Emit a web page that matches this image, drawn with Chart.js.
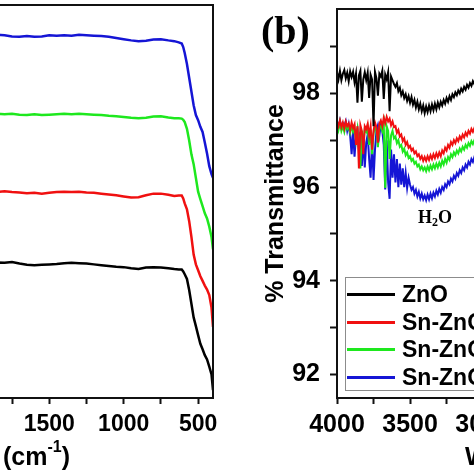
<!DOCTYPE html>
<html>
<head>
<meta charset="utf-8">
<script src="https://cdn.jsdelivr.net/npm/chart.js@4.4.1/dist/chart.umd.min.js"></script>
<style>
  html, body { margin: 0; padding: 0; background: #fff; overflow: hidden; width: 474px; height: 474px; position: relative; }
  canvas { position: absolute; top: 0; }
  #chartA { left: -363px; }
  #chartB { left: 250px; }
  .lbl { position: absolute; font-family: 'Liberation Serif', 'Times New Roman', serif; font-weight: bold; color: #000; white-space: nowrap; }
  #panelB { left: 261px; top: 11px; font-size: 40px; line-height: 40px; }
  #water { left: 418px; top: 208px; font-size: 18px; line-height: 18px; }
  #water sub { font-size: 12px; vertical-align: -3px; }
  #legendBox { position: absolute; left: 345px; top: 277px; width: 220px; height: 112px; border: 1px solid #8c8c8c; background: #fff; }
  .row { position: absolute; left: 1px; height: 28px; display: flex; align-items: center; }
  .sw { width: 48px; height: 3px; margin-right: 7px; }
  .row span { font: bold 23px 'Liberation Sans', Arial, sans-serif; color: #000; }
</style>
</head>
<body>
<canvas id="chartA" width="593" height="474"></canvas>
<canvas id="chartB" width="633" height="474"></canvas>
<div class="lbl" id="panelB">(b)</div>
<div class="lbl" id="water">H<sub>2</sub>O</div>
<div id="legendBox"></div>
<script>
// series names and colours
const seriesNames = ['ZnO', 'Sn-ZnO 1%', 'Sn-ZnO 3%', 'Sn-ZnO 5%'];
const seriesColors = ['#000000', '#f01010', '#1ee81e', '#1515d5'];

// ---- panel (a): stacked spectra, wavenumber cm-1
const leftWn = [4000, 3600, 3200, 2800, 2400, 2100,
  2000, 1950, 1900, 1850, 1800, 1750, 1700, 1650, 1600, 1550,
  1500, 1450, 1400, 1350, 1300, 1250, 1200, 1150, 1100, 1050,
  1000, 950, 900, 850, 800, 750, 700, 660, 630, 610,
  600, 590, 575, 560, 545, 530, 515, 500, 485, 470,
  455, 440, 425, 410, 400];
const leftZnO = [34.0, 34.3, 34.1, 34.4, 34.2, 34.3,
  34.3, 34.4, 34.2, 34.5, 34.4, 34.6, 34.2, 33.9, 33.8, 33.9,
  34.0, 34.1, 34.3, 34.4, 34.3, 34.2, 34.0, 33.8, 33.6, 33.4,
  33.3, 33.0, 32.8, 33.2, 33.3, 33.2, 33.0, 32.8, 32.7, 32.7,
  32.2, 31.5, 30.3, 27.5, 24.0, 20.5, 18.3, 16.0, 13.8, 12.4,
  10.9, 9.8, 8.0, 6.0, 2.0];
const leftSn1 = [52.2, 52.5, 52.3, 52.6, 52.4, 52.5,
  52.6, 52.4, 52.5, 52.4, 52.6, 52.4, 52.3, 52.1, 52.2, 52.0,
  52.2, 52.4, 52.5, 52.4, 52.5, 52.3, 52.2, 52.0, 51.8, 51.6,
  51.3, 51.0, 51.1, 51.6, 52.0, 52.0, 51.7, 51.4, 51.5, 51.5,
  50.8, 49.5, 48.0, 45.0, 41.0, 36.5, 34.0, 32.5, 31.0, 29.8,
  28.6, 27.6, 26.2, 23.0, 18.1];
const leftSn2 = [72.0, 72.3, 72.1, 72.4, 72.2, 72.3,
  72.4, 72.3, 72.1, 72.3, 72.2, 72.3, 72.1, 72.0, 72.2, 72.0,
  72.1, 72.2, 72.3, 72.2, 72.3, 72.2, 72.1, 72.0, 71.8, 71.7,
  71.5, 71.3, 71.2, 71.3, 71.6, 71.7, 71.4, 71.2, 71.2, 71.1,
  70.8, 70.2, 68.5, 65.5, 62.0, 59.5, 56.0, 52.5, 50.6, 48.8,
  47.0, 45.7, 43.6, 41.0, 37.8];
const leftSn3 = [91.8, 92.0, 92.2, 91.9, 92.1, 92.2,
  92.2, 92.3, 92.1, 92.4, 92.3, 92.0, 91.9, 92.1, 91.9, 92.0,
  92.3, 92.2, 92.3, 92.2, 92.4, 92.3, 92.2, 92.1, 91.9, 91.6,
  91.3, 91.0, 90.8, 90.9, 91.2, 91.3, 91.0, 90.8, 90.5, 90.2,
  89.3, 87.8, 85.0, 81.5, 78.0, 74.5, 72.0, 70.7, 69.0, 67.7,
  65.0, 62.2, 59.0, 57.0, 56.0];
const wnTicks = [4000, 3750, 3500, 3250, 3000, 2750, 2500, 2250, 2000, 1750, 1500, 1250, 1000, 750, 500];

// ---- panel (b): % transmittance, 4000-3050 cm-1
const rightWn = [4000, 3990, 3980, 3970, 3960, 3950, 3940, 3930, 3920, 3910,
  3900, 3890, 3880, 3870, 3860, 3850, 3840, 3830, 3820, 3810,
  3800, 3790, 3780, 3770, 3760, 3750, 3740, 3730, 3720, 3710,
  3700, 3690, 3680, 3670, 3660, 3650, 3640, 3630, 3620, 3610,
  3600, 3590, 3580, 3570, 3560, 3550, 3540, 3530, 3520, 3510,
  3500, 3490, 3480, 3470, 3460, 3450, 3440, 3430, 3420, 3410,
  3400, 3390, 3380, 3370, 3360, 3350, 3340, 3330, 3320, 3310,
  3300, 3290, 3280, 3270, 3260, 3250, 3240, 3230, 3220, 3210,
  3200, 3190, 3180, 3170, 3160, 3150, 3140, 3130, 3120, 3110,
  3100, 3090, 3080, 3070, 3060, 3050];
const rightZnO = [98.45, 98.30, 98.48, 98.28, 98.42, 98.50, 98.32, 98.44, 98.26, 98.47,
  98.35, 98.46, 98.24, 98.42, 97.80, 98.38, 98.48, 97.82, 98.30, 98.45,
  98.28, 98.44, 97.90, 98.40, 98.30, 97.30, 98.46, 98.32, 97.95, 98.42,
  98.36, 98.48, 97.88, 98.40, 98.30, 98.45, 97.62, 98.36, 98.28, 98.20,
  98.14, 98.22, 98.05, 98.12, 97.96, 98.04, 97.90, 97.98, 97.84, 97.94,
  97.80, 97.92, 97.76, 97.86, 97.70, 97.82, 97.66, 97.78, 97.62, 97.74,
  97.58, 97.72, 97.60, 97.74, 97.62, 97.76, 97.64, 97.78, 97.66, 97.80,
  97.70, 97.82, 97.74, 97.86, 97.78, 97.90, 97.82, 97.94, 97.86, 97.98,
  97.92, 98.02, 97.96, 98.06, 98.00, 98.10, 98.04, 98.14, 98.08, 98.18,
  98.12, 98.22, 98.16, 98.26, 98.20, 98.28];
const rightSn1 = [97.40, 97.30, 97.42, 97.28, 97.38, 97.25, 97.40, 97.30, 97.36, 97.22,
  97.38, 97.26, 97.34, 96.90, 97.30, 96.40, 97.32, 97.20, 96.70, 97.30,
  97.24, 97.35, 97.10, 97.30, 96.80, 97.20, 97.38, 97.28, 96.95, 97.35,
  97.42, 97.30, 97.48, 97.36, 97.50, 97.40, 97.46, 97.32, 97.40, 97.28,
  97.30, 97.16, 97.22, 97.08, 97.12, 96.98, 97.04, 96.90, 96.96, 96.84,
  96.88, 96.78, 96.82, 96.72, 96.76, 96.66, 96.70, 96.60, 96.66, 96.56,
  96.64, 96.56, 96.66, 96.58, 96.68, 96.60, 96.70, 96.62, 96.72, 96.64,
  96.74, 96.66, 96.78, 96.72, 96.84, 96.78, 96.90, 96.84, 96.96, 96.90,
  97.00, 96.94, 97.04, 96.98, 97.08, 97.02, 97.12, 97.06, 97.16, 97.10,
  97.20, 97.14, 97.24, 97.18, 97.26, 97.22];
const rightSn2 = [97.35, 97.22, 97.38, 97.20, 97.30, 97.18, 97.34, 97.24, 97.30, 97.16,
  97.30, 97.18, 97.26, 97.00, 97.22, 96.80, 96.40, 97.20, 96.90, 97.24,
  97.18, 97.28, 96.90, 97.22, 96.70, 97.14, 97.30, 97.20, 96.85, 97.26,
  97.30, 97.20, 97.36, 95.98, 97.30, 97.20, 96.60, 97.10, 97.20, 97.04,
  97.08, 96.94, 97.00, 96.86, 96.90, 96.76, 96.82, 96.68, 96.74, 96.62,
  96.66, 96.56, 96.60, 96.50, 96.54, 96.44, 96.48, 96.38, 96.44, 96.36,
  96.42, 96.34, 96.44, 96.36, 96.46, 96.38, 96.48, 96.40, 96.50, 96.42,
  96.52, 96.44, 96.56, 96.48, 96.60, 96.52, 96.64, 96.58, 96.70, 96.64,
  96.74, 96.68, 96.78, 96.72, 96.82, 96.76, 96.86, 96.80, 96.90, 96.84,
  96.94, 96.88, 96.98, 96.92, 97.00, 96.96];
const rightSn3 = [97.38, 97.28, 97.42, 97.26, 97.36, 97.30, 97.40, 97.20, 97.34, 97.10,
  96.70, 97.20, 96.65, 97.10, 97.24, 96.90, 97.18, 96.45, 97.05, 96.42,
  96.95, 97.12, 96.60, 96.20, 97.00, 96.15, 96.80, 97.20, 97.32, 97.10,
  97.34, 97.20, 96.90, 95.95, 97.00, 96.10, 95.75, 96.80, 96.20, 96.70,
  96.10, 96.60, 96.00, 96.50, 96.05, 96.40, 96.00, 96.30, 95.98, 96.20,
  96.05, 95.94, 96.00, 95.86, 95.94, 95.80, 95.90, 95.76, 95.86, 95.74,
  95.82, 95.72, 95.84, 95.74, 95.86, 95.76, 95.88, 95.80, 95.92, 95.84,
  95.96, 95.88, 96.00, 95.94, 96.06, 96.00, 96.12, 96.06, 96.18, 96.12,
  96.24, 96.18, 96.30, 96.24, 96.36, 96.30, 96.42, 96.36, 96.48, 96.42,
  96.54, 96.48, 96.60, 96.54, 96.64, 96.60];
const transTicks = [92, 93, 94, 95, 96, 97, 98, 99];

Chart.defaults.font.family = "'Liberation Sans', Arial, sans-serif";
Chart.defaults.color = '#000';

// box round the plot area
const frame = {
  id: 'frame',
  afterDatasetsDraw(chart) {
    const { ctx, chartArea: a } = chart;
    ctx.save();
    ctx.strokeStyle = '#111';
    ctx.lineWidth = 2;
    ctx.strokeRect(a.left, a.top, a.right - a.left, a.bottom - a.top);
    ctx.restore();
  }
};

// axis title with a real superscript
const xTitle = {
  id: 'xTitle',
  afterDraw(chart, args, opts) {
    const { ctx, chartArea: a } = chart;
    const big = "bold 25px 'Liberation Sans', Arial, sans-serif";
    const small = "bold 16px 'Liberation Sans', Arial, sans-serif";
    ctx.save();
    ctx.fillStyle = '#000';
    ctx.textAlign = 'left';
    ctx.textBaseline = 'alphabetic';
    ctx.font = big;
    const w1 = ctx.measureText('Wavenumber (cm').width;
    const w3 = ctx.measureText(')').width;
    ctx.font = small;
    const w2 = ctx.measureText('-1').width;
    let x = (a.left + a.right) / 2 + opts.shift - (w1 + w2 + w3) / 2;
    ctx.font = big;
    ctx.fillText('Wavenumber (cm', x, 465);
    x += w1;
    ctx.font = small;
    ctx.fillText('-1', x, 452);
    x += w2;
    ctx.font = big;
    ctx.fillText(')', x, 465);
    ctx.restore();
  }
};

function pts(xs, ys) {
  return xs.map((x, i) => ({ x, y: ys[i] }));
}

function makeSets(xs, list, width) {
  return list.map((ys, k) => ({
    label: seriesNames[k],
    data: pts(xs, ys),
    borderColor: seriesColors[k],
    borderWidth: width,
    pointRadius: 0,
    tension: 0,
    fill: false
  }));
}

// keep the plot area where the padding puts it
function noOverflow(s) {
  s.paddingTop = 0;
  s.paddingBottom = 0;
  s.paddingLeft = 0;
  s.paddingRight = 0;
}

function wnAxis(fontSize, pad) {
  return {
    type: 'linear',
    reverse: true,
    min: 400,
    max: 4000,
    afterBuildTicks: s => { s.ticks = wnTicks.map(v => ({ value: v })); },
    afterFit: s => { s.height = 76; noOverflow(s); },
    ticks: {
      autoSkip: false,
      maxRotation: 0,
      padding: pad,
      font: { size: fontSize, weight: 'bold' },
      callback: v => (v % 500 === 0 ? String(v) : '')
    },
    grid: { drawOnChartArea: false, tickLength: 6, tickWidth: 2, tickColor: '#111' },
    border: { color: '#111', width: 2 }
  };
}

// panel (a)
new Chart(document.getElementById('chartA'), {
  type: 'line',
  data: { datasets: makeSets(leftWn, [leftZnO, leftSn1, leftSn2, leftSn3], 2.5) },
  options: {
    responsive: false,
    animation: false,
    devicePixelRatio: 1,
    layout: { padding: { left: 40, right: 17, top: 5, bottom: 0 } },
    scales: {
      x: wnAxis(23, 7),
      y: { display: false, min: 0, max: 100 }
    },
    plugins: { legend: { display: false }, tooltip: { enabled: false }, xTitle: { shift: 10 } }
  },
  plugins: [frame, xTitle]
});

// panel (b)
new Chart(document.getElementById('chartB'), {
  type: 'line',
  data: { datasets: makeSets(rightWn, [rightZnO, rightSn1, rightSn2, rightSn3], 2) },
  options: {
    responsive: false,
    animation: false,
    devicePixelRatio: 1,
    layout: { padding: { left: 0, right: 20, top: 9, bottom: 0 } },
    scales: {
      x: wnAxis(25, 6),
      y: {
        min: 91.5,
        max: 99.8,
        afterBuildTicks: s => { s.ticks = transTicks.map(v => ({ value: v })); },
        afterFit: s => { s.width = 87; noOverflow(s); },
        ticks: {
          autoSkip: false,
          padding: 10,
          font: { size: 25, weight: 'bold' },
          callback: v => (v % 2 === 0 ? String(v) : '')
        },
        title: {
          display: true,
          text: '% Transmittance',
          font: { size: 25, weight: 'bold' },
          padding: { top: 11, bottom: 0 }
        },
        grid: { drawOnChartArea: false, tickLength: 7, tickWidth: 2, tickColor: '#111' },
        border: { color: '#111', width: 2 }
      }
    },
    plugins: { legend: { display: false }, tooltip: { enabled: false }, xTitle: { shift: -20 } }
  },
  plugins: [frame, xTitle]
});

// legend drawn as html, from the same names and colours
const box = document.getElementById('legendBox');
const rowTops = [2, 30, 57, 85];
seriesNames.forEach((name, k) => {
  const row = document.createElement('div');
  row.className = 'row';
  row.style.top = rowTops[k] + 'px';
  const sw = document.createElement('div');
  sw.className = 'sw';
  sw.style.background = seriesColors[k];
  const txt = document.createElement('span');
  txt.textContent = name;
  row.appendChild(sw);
  row.appendChild(txt);
  box.appendChild(row);
});
</script>
</body>
</html>
